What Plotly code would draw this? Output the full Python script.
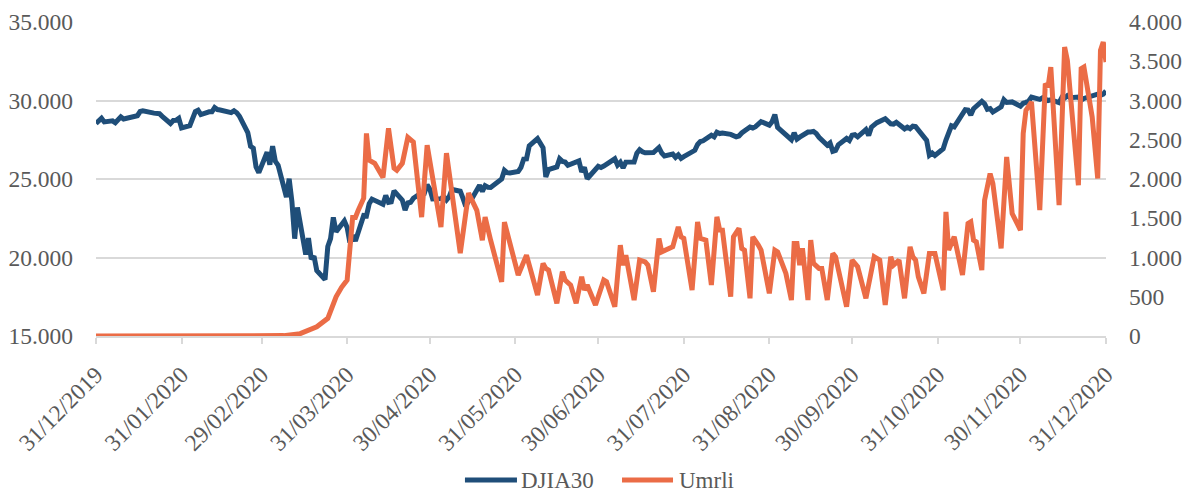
import pandas as pd
import plotly.graph_objects as go

# ---------------- DATA ----------------
# DJIA30 closes on trading days (31/12/2019 .. 31/12/2020)
djia_dec2019 = [28538]
djia_jan = [28868, 28634, 28703, 28583, 28745, 28957, 28824, 28907, 28940, 29030, 29298,
            29348, 29196, 29186, 29160, 28990, 28535, 28723, 28734, 28860, 28256]
djia_feb = [28400, 28808, 29290, 29380, 29103, 29276, 29276, 29551, 29424, 29398, 29232,
            29348, 29219, 28992, 27961, 27081, 26957, 25766, 25409]
djia_mar = [26703, 25917, 27091, 26122, 25865, 23851, 25018, 23553, 21200, 23186, 20189,
            21237, 19899, 20087, 19174, 18592, 20705, 21200, 22552, 21637, 22328, 21917]
djia_apr = [20944, 21413, 21053, 22680, 22654, 23434, 23720, 23390, 23950, 23505, 23538,
            24242, 23650, 23019, 23475, 23516, 23775, 24134, 24101, 24634, 24346]
djia_may = [23724, 23750, 23883, 23665, 23875, 24331, 24222, 23765, 23248, 23625, 23685,
            24597, 24207, 24576, 24474, 24465, 24995, 25548, 25401, 25383]
djia_jun = [25475, 25742, 26270, 26282, 27111, 27572, 27272, 26990, 25128, 25606, 25763,
            26290, 26120, 26080, 25871, 26025, 26156, 25446, 25746, 25016, 25596, 25813]
djia_jul = [25735, 25827, 26287, 25890, 26067, 25706, 26075, 26086, 26643, 26870, 26735,
            26672, 26681, 26840, 27006, 26652, 26470, 26585, 26379, 26540, 26314, 26428]
djia_aug = [26664, 26828, 27201, 27387, 27433, 27791, 27687, 27976, 27897, 27931, 27844,
            27778, 27692, 27740, 27930, 28308, 28249, 28332, 28492, 28654, 28430]
djia_sep = [28646, 29100, 28292, 28133, 27501, 27940, 27535, 27666, 27993, 27995, 28032,
            27902, 27657, 27147, 27289, 26763, 26815, 27174, 27584, 27452, 27782]
djia_oct = [27817, 27683, 28149, 27773, 28303, 28426, 28587, 28838, 28680, 28514, 28494,
            28606, 28195, 28309, 28211, 28364, 28336, 27685, 27463, 26520, 26660, 26502]
djia_nov = [26925, 27481, 27848, 28390, 28323, 29158, 29421, 29398, 29080, 29480, 29950,
            29784, 29438, 29483, 29263, 29591, 30046, 29873, 29910, 29639]
djia_dec = [29824, 29884, 29970, 30218, 30070, 30174, 30068, 29999, 30047, 29861, 30200,
            30155, 30304, 30179, 30216, 30015, 30129, 30200, 30404, 30336, 30409, 30606]

market_holidays = ["2020-01-01", "2020-01-20", "2020-02-17", "2020-04-10", "2020-05-25",
                   "2020-07-03", "2020-09-07", "2020-11-26", "2020-12-25"]

# Umrli (daily deaths) – vertices
umrli_dates = [
    "2019-12-31", "2020-02-29", "2020-03-08", "2020-03-14", "2020-03-16", "2020-03-20",
    "2020-03-24", "2020-03-27", "2020-03-29", "2020-03-31", "2020-04-02", "2020-04-03",
    "2020-04-04", "2020-04-06", "2020-04-07", "2020-04-08", "2020-04-10", "2020-04-13",
    "2020-04-15", "2020-04-17", "2020-04-18", "2020-04-20", "2020-04-22", "2020-04-24",
    "2020-04-27", "2020-04-29", "2020-05-04", "2020-05-06", "2020-05-08", "2020-05-11",
    "2020-05-14", "2020-05-17", "2020-05-19", "2020-05-20", "2020-05-22", "2020-05-26",
    "2020-05-27", "2020-05-29", "2020-06-01", "2020-06-04", "2020-06-08", "2020-06-10",
    "2020-06-11", "2020-06-12", "2020-06-15", "2020-06-17", "2020-06-18", "2020-06-20",
    "2020-06-22", "2020-06-24", "2020-06-25", "2020-06-26", "2020-06-29", "2020-07-02",
    "2020-07-03", "2020-07-06", "2020-07-08", "2020-07-09", "2020-07-10", "2020-07-13",
    "2020-07-15", "2020-07-17", "2020-07-18", "2020-07-20", "2020-07-22", "2020-07-23",
    "2020-07-27", "2020-07-29", "2020-07-30", "2020-07-31", "2020-08-03", "2020-08-05",
    "2020-08-06", "2020-08-08", "2020-08-10", "2020-08-12", "2020-08-13", "2020-08-14",
    "2020-08-17", "2020-08-18", "2020-08-20", "2020-08-21", "2020-08-22", "2020-08-24",
    "2020-08-25", "2020-08-27", "2020-08-28", "2020-08-31", "2020-09-02", "2020-09-03",
    "2020-09-06", "2020-09-08", "2020-09-09", "2020-09-10", "2020-09-11", "2020-09-12",
    "2020-09-14", "2020-09-15", "2020-09-16", "2020-09-18", "2020-09-19", "2020-09-21",
    "2020-09-23", "2020-09-24", "2020-09-25", "2020-09-28", "2020-09-30", "2020-10-02",
    "2020-10-05", "2020-10-08", "2020-10-10", "2020-10-12", "2020-10-14", "2020-10-15",
    "2020-10-17", "2020-10-19", "2020-10-21", "2020-10-22", "2020-10-23", "2020-10-24",
    "2020-10-26", "2020-10-28", "2020-10-30", "2020-11-02", "2020-11-03", "2020-11-04",
    "2020-11-06", "2020-11-09", "2020-11-11", "2020-11-12", "2020-11-13", "2020-11-14",
    "2020-11-16", "2020-11-17", "2020-11-19", "2020-11-20", "2020-11-23", "2020-11-25",
    "2020-11-27", "2020-11-29", "2020-11-30", "2020-12-01", "2020-12-02", "2020-12-04",
    "2020-12-07", "2020-12-09", "2020-12-10", "2020-12-11", "2020-12-14", "2020-12-16",
    "2020-12-17", "2020-12-21", "2020-12-22", "2020-12-23", "2020-12-26", "2020-12-28",
    "2020-12-29", "2020-12-30", "2020-12-31",
]
umrli_values = [
    0, 0, 5, 30, 55, 118,
    225, 500, 620, 712, 1510, 1510,
    1600, 1755, 2580, 2240, 2200, 2020,
    2646, 2137, 2110, 2200, 2530, 2470,
    1514, 2430, 1387, 2330, 1820, 1056,
    1820, 1600, 1220, 1514, 1220, 690,
    1450, 1180, 776, 1030, 522, 925,
    861, 840, 416, 818, 712, 649,
    416, 754, 585, 649, 394, 712,
    691, 373, 1158, 903, 1030, 458,
    967, 945, 903, 564, 1243, 1072,
    1136, 1391, 1264, 1243, 585, 1454,
    1243, 1221, 649, 1518, 1350, 1349,
    500, 1264, 1370, 1116, 1094, 480,
    1264, 1158, 1094, 543, 1094, 1072,
    797, 458, 1179, 1179, 903, 1116,
    458, 1221, 925, 861, 861, 458,
    1052, 1009, 840, 373, 967, 882,
    480, 1009, 967, 394, 1009, 903,
    967, 480, 1136, 1009, 967, 754,
    543, 1052, 1052, 585, 1581, 1094,
    1264, 776, 1433, 1454, 1221, 1200,
    840, 1730, 2069, 1942, 1116, 2281,
    1560, 1412, 1349, 2579, 2875, 2981,
    1603, 3214, 3172, 3426, 1667, 3681,
    3511, 1921, 3405, 3426, 2790, 2006,
    3639, 3744, 3490,
]

tick_dates = ["2019-12-31", "2020-01-31", "2020-02-29", "2020-03-31", "2020-04-30",
              "2020-05-31", "2020-06-30", "2020-07-31", "2020-08-31", "2020-09-30",
              "2020-10-31", "2020-11-30", "2020-12-31"]
tick_labels = ["31/12/2019", "31/01/2020", "29/02/2020", "31/03/2020", "30/04/2020",
               "31/05/2020", "30/06/2020", "31/07/2020", "31/08/2020", "30/09/2020",
               "31/10/2020", "30/11/2020", "31/12/2020"]

series_names = ["DJIA30", "Umrli"]
series_colors = ["#1F4E79", "#EB6C46"]

# --------------- BUILD ----------------
djia_values = (djia_dec2019 + djia_jan + djia_feb + djia_mar + djia_apr + djia_may +
               djia_jun + djia_jul + djia_aug + djia_sep + djia_oct + djia_nov + djia_dec)
djia_dates = pd.bdate_range("2019-12-31", "2020-12-31", freq="C", holidays=market_holidays)
n = min(len(djia_dates), len(djia_values))

FONT = "Liberation Serif, Times New Roman, serif"
TXT = "#595959"
GRID = "#d9d9d9"
TICK_SIZE = 23.5

fig = go.Figure()
fig.add_trace(go.Scatter(x=djia_dates[:n], y=djia_values[:n], name=series_names[0],
                         mode="lines", showlegend=False,
                         line=dict(color=series_colors[0], width=5)))
fig.add_trace(go.Scatter(x=umrli_dates, y=umrli_values, name=series_names[1], mode="lines",
                         yaxis="y2", showlegend=False,
                         line=dict(color=series_colors[1], width=5)))

# Legend drawn below the plot (Excel-like long line samples)
legend_y = -0.4586
legend_items = [(0.3653, 0.4168, 0.4188), (0.5208, 0.5713, 0.5752)]
shapes, annotations = [], []
for (lx0, lx1, tx), name, col in zip(legend_items, series_names, series_colors):
    shapes.append(dict(type="line", xref="paper", yref="paper", x0=lx0, x1=lx1,
                       y0=legend_y, y1=legend_y, line=dict(color=col, width=5)))
    annotations.append(dict(xref="paper", yref="paper", x=tx, y=legend_y, text=name,
                            showarrow=False, xanchor="left", yanchor="middle",
                            font=dict(family=FONT, size=23, color=TXT)))

fig.update_layout(
    width=1193, height=486,
    margin=dict(l=88, r=95, t=14, b=158, autoexpand=False),
    paper_bgcolor="white", plot_bgcolor="white",
    separators=",.",
    font=dict(family=FONT, size=TICK_SIZE, color=TXT),
    showlegend=False,
    shapes=shapes, annotations=annotations,
    xaxis=dict(type="date", range=["2019-12-31", "2020-12-31"], automargin=False,
               tickvals=tick_dates, ticktext=tick_labels, tickangle=-45,
               showgrid=False, showline=True, linecolor=GRID, linewidth=1.5,
               ticks="outside", ticklen=6, tickcolor=GRID, tickwidth=1.5,
               ticklabelstandoff=8,
               tickfont=dict(family=FONT, size=TICK_SIZE, color=TXT), zeroline=False),
    yaxis=dict(range=[15000, 35000], dtick=5000, tick0=15000, tickformat=",",
               automargin=False,
               showgrid=True, gridcolor=GRID, gridwidth=1.5, zeroline=False,
               showline=False, ticks="", ticklabelstandoff=22,
               tickfont=dict(family=FONT, size=TICK_SIZE, color=TXT)),
    yaxis2=dict(range=[0, 4000], dtick=500, tick0=0, tickformat=",", overlaying="y",
                automargin=False,
                side="right", showgrid=False, zeroline=False, showline=False, ticks="",
                ticklabelstandoff=22, tickfont=dict(family=FONT, size=TICK_SIZE, color=TXT)),
)

fig.write_html("out.html")
